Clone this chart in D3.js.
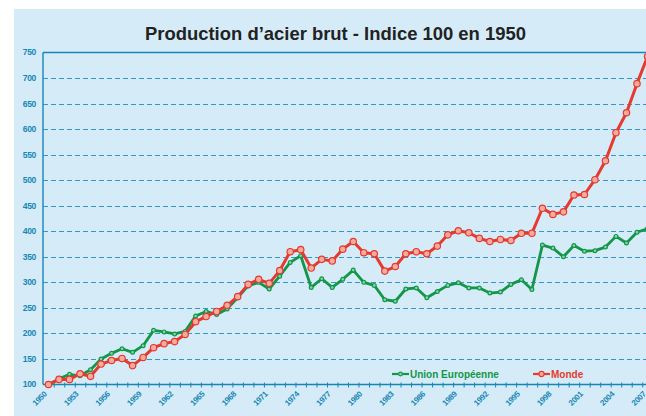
<!DOCTYPE html>
<html>
<head>
<meta charset="utf-8">
<script src="https://cdn.jsdelivr.net/npm/d3@7"></script>
<style>
  body { margin: 0; background: #fff; }
  svg { display: block; font-family: "Liberation Sans", Arial, sans-serif; }
</style>
</head>
<body>
<svg></svg>
<script>
// data
let years = d3.range(1950, 2008)
let monde = [100, 110, 110, 121, 116, 140, 147, 151, 137, 153,
             172, 180, 184, 198, 223, 233, 243, 255, 272, 296,
             306, 298, 323, 360, 364, 328, 345, 342, 365, 380,
             358, 356, 322, 331, 356, 360, 356, 371, 393, 401,
             397, 386, 380, 384, 382, 396, 396, 445, 433, 438,
             471, 472, 501, 538, 593, 632, 689, 742]
let unionEuropeenne = [100, 111, 120, 117, 129, 150, 161, 170, 163, 176,
             206, 203, 199, 204, 234, 243, 237, 248, 270, 293,
             300, 287, 312, 339, 352, 290, 307, 290, 306, 324,
             300, 294, 266, 263, 287, 289, 270, 282, 294, 299,
             289, 289, 279, 281, 296, 305, 286, 373, 367, 350,
             372, 361, 362, 369, 390, 377, 398, 405]
let yTicks = [100, 150, 200, 250, 300, 350, 400, 450, 500, 550, 600, 650, 700, 750]
let xTickLabels = d3.range(1950, 2008, 3)
let titre = "Production d\u2019acier brut - Indice 100 en 1950"

let width = 646
let height = 416
let plotLeft = 43
let plotTop = 52.5
let plotBottom = 384.5

let axisColor = "#1786b5"
let red = "#e43a2f"
let green = "#13964a"

let svg = d3.select('svg').attr('width', width).attr('height', height)

svg.append('rect')
   .attr('x', 14).attr('y', 9)
   .attr('width', width - 14).attr('height', height - 9)
   .attr('fill', '#d5ecf8')

let x = d3.scaleLinear().domain([1950, 2007]).range([48.5, 647.5])
let y = d3.scaleLinear().domain([100, 750]).range([plotBottom, plotTop])

// title
svg.append('text')
   .attr('x', 145).attr('y', 40)
   .attr('textLength', 381).attr('lengthAdjust', 'spacingAndGlyphs')
   .attr('font-size', 18.5).attr('font-weight', 'bold').attr('fill', '#222')
   .text(titre)

// dashed grid
svg.append('g')
   .selectAll('line')
   .data(yTicks.filter(d => d > 100 && d < 750))
   .join('line')
   .attr('x1', plotLeft).attr('x2', width)
   .attr('y1', d => Math.round(y(d)) + 0.5).attr('y2', d => Math.round(y(d)) + 0.5)
   .attr('stroke', '#3499c9').attr('stroke-width', 1.2)
   .attr('stroke-dasharray', '5,3')

// top and left frame
svg.append('line').attr('x1', plotLeft).attr('x2', width).attr('y1', plotTop).attr('y2', plotTop)
   .attr('stroke', axisColor).attr('stroke-width', 1.4)
svg.append('line').attr('x1', plotLeft).attr('x2', plotLeft).attr('y1', plotTop).attr('y2', plotBottom)
   .attr('stroke', axisColor).attr('stroke-width', 1.4)

// y labels
svg.append('g')
   .selectAll('text')
   .data(yTicks)
   .join('text')
   .attr('x', 36).attr('y', d => y(d))
   .attr('dy', '0.35em')
   .attr('text-anchor', 'end')
   .attr('font-size', 8.5).attr('font-weight', 'bold')
   .attr('letter-spacing', -0.3)
   .attr('fill', axisColor)
   .text(d => d)

// x axis with year ticks between points
let xAxis = d3.axisBottom(x)
              .tickValues(d3.range(1950.5, 2007, 1))
              .tickSize(3)
              .tickSizeOuter(0)
              .tickFormat('')
let gx = svg.append('g')
            .attr('transform', `translate(0,${plotBottom})`)
            .call(xAxis)
gx.select('.domain').attr('stroke', axisColor).attr('stroke-width', 1.4)
  .attr('d', `M${plotLeft},0H${width}`)
gx.selectAll('.tick line').attr('stroke', axisColor).attr('y1', -2).attr('stroke-width', 1)

svg.append('g')
   .selectAll('text')
   .data(xTickLabels)
   .join('text')
   .attr('transform', d => `translate(${x(d) - 1},${plotBottom + 10}) rotate(-45)`)
   .attr('text-anchor', 'end')
   .attr('font-size', 8).attr('font-weight', 'bold')
   .attr('letter-spacing', -0.3)
   .attr('fill', axisColor)
   .text(d => d)

// lines
let line = d3.line().x(d => x(d[0])).y(d => y(d[1]))

let drawSeries = (values, color, fill, r, w) => {
    let pts = years.map((yr, i) => [yr, values[i]])
    svg.append('path')
       .datum(pts)
       .attr('d', line)
       .attr('fill', 'none')
       .attr('stroke', color).attr('stroke-width', w)
       .attr('stroke-linejoin', 'round')
    svg.append('g')
       .selectAll('circle')
       .data(pts)
       .join('circle')
       .attr('cx', d => x(d[0])).attr('cy', d => y(d[1]))
       .attr('r', r)
       .attr('fill', fill).attr('stroke', color).attr('stroke-width', 1.2)
}

drawSeries(unionEuropeenne, green, '#86d6a6', 1.9, 2.8)
drawSeries(monde, red, '#f8ab9c', 3.2, 3)

// legend
let legend = [
    {name: 'Union Europ\u00e9enne', color: green, fill: '#86d6a6', r: 1.9, x: 392},
    {name: 'Monde', color: red, fill: '#f8ab9c', r: 2.6, x: 533}
]
let lg = svg.append('g').selectAll('g').data(legend).join('g')
            .attr('transform', d => `translate(${d.x},374)`)
lg.append('line').attr('x1', 0).attr('x2', 17).attr('y1', 0).attr('y2', 0)
  .attr('stroke', d => d.color).attr('stroke-width', 2.2)
lg.append('circle').attr('cx', 8.5).attr('cy', 0).attr('r', d => d.r)
  .attr('fill', d => d.fill).attr('stroke', d => d.color).attr('stroke-width', 1.1)
lg.append('text').attr('x', 18).attr('y', 0).attr('dy', '0.36em')
  .attr('font-size', 10).attr('font-weight', 'bold')
  .attr('fill', d => d.color)
  .text(d => d.name)
</script>
</body>
</html>
